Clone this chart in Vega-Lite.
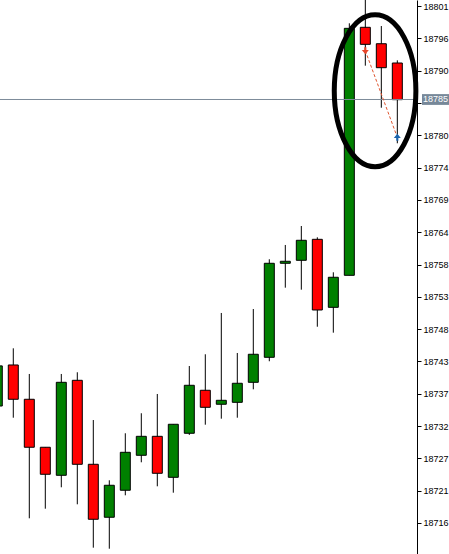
{
  "$schema": "https://vega.github.io/schema/vega-lite/v6.json",
  "width": 417,
  "height": 554,
  "autosize": {"type": "none"},
  "padding": {"left": 0, "top": 0, "right": 32, "bottom": 0},
  "background": "white",
  "config": {"view": {"stroke": null}, "axis": {"labelOverlap": false, "labelBound": false}},
  "datasets": {
    "candles": [
      {"i": 0, "open": 18735.2, "high": 18743.0, "low": 18733.5, "close": 18741.8},
      {"i": 1, "open": 18741.95, "high": 18744.69, "low": 18733.28, "close": 18736.31},
      {"i": 2, "open": 18736.31, "high": 18740.47, "low": 18716.74, "close": 18728.42},
      {"i": 3, "open": 18728.42, "high": 18728.42, "low": 18718.32, "close": 18723.98},
      {"i": 4, "open": 18723.81, "high": 18740.47, "low": 18721.84, "close": 18739.1},
      {"i": 5, "open": 18739.43, "high": 18740.75, "low": 18719.04, "close": 18725.62},
      {"i": 6, "open": 18725.62, "high": 18732.9, "low": 18711.91, "close": 18716.58},
      {"i": 7, "open": 18716.91, "high": 18722.99, "low": 18711.74, "close": 18722.17},
      {"i": 8, "open": 18721.35, "high": 18730.72, "low": 18720.52, "close": 18727.59},
      {"i": 9, "open": 18727.1, "high": 18734.01, "low": 18725.95, "close": 18730.22},
      {"i": 10, "open": 18730.22, "high": 18737.18, "low": 18722.0, "close": 18724.14},
      {"i": 11, "open": 18723.48, "high": 18732.2, "low": 18720.95, "close": 18732.2},
      {"i": 12, "open": 18730.72, "high": 18741.78, "low": 18730.45, "close": 18738.61},
      {"i": 13, "open": 18737.79, "high": 18743.71, "low": 18732.13, "close": 18734.99},
      {"i": 14, "open": 18735.49, "high": 18750.5, "low": 18733.12, "close": 18736.14},
      {"i": 15, "open": 18735.81, "high": 18743.92, "low": 18733.28, "close": 18738.94},
      {"i": 16, "open": 18739.1, "high": 18751.15, "low": 18737.95, "close": 18743.71},
      {"i": 17, "open": 18743.21, "high": 18759.33, "low": 18742.56, "close": 18758.67},
      {"i": 18, "open": 18758.67, "high": 18761.68, "low": 18754.66, "close": 18759.0},
      {"i": 19, "open": 18759.16, "high": 18764.8, "low": 18754.33, "close": 18762.45},
      {"i": 20, "open": 18762.61, "high": 18762.94, "low": 18748.24, "close": 18750.99},
      {"i": 21, "open": 18751.43, "high": 18757.19, "low": 18747.26, "close": 18756.37},
      {"i": 22, "open": 18756.69, "high": 18798.13, "low": 18756.69, "close": 18797.3},
      {"i": 23, "open": 18797.47, "high": 18802.8, "low": 18791.16, "close": 18794.67},
      {"i": 24, "open": 18794.77, "high": 18797.68, "low": 18784.25, "close": 18790.83},
      {"i": 25, "open": 18791.6, "high": 18792.04, "low": 18778.4, "close": 18785.57}
    ],
    "trades": [
      {"i": 23, "price": 18793.62, "kind": "sell"},
      {"i": 25, "price": 18779.38, "kind": "buy"}
    ],
    "bid": [
      {"i": 26.23, "price": 18785.6, "label": "18785"}
    ],
    "ellipse": [
      {"i": 23.61, "price": 18787.03}
    ]
  },
  "layer": [
    {
      "data": {"name": "candles"},
      "mark": {"type": "rule", "color": "black", "strokeWidth": 1, "clip": true},
      "encoding": {
        "x": {"field": "i", "type": "quantitative", "scale": {"domain": [0.169, 26.23], "nice": false, "zero": false, "padding": 0}, "axis": null},
        "y": {"field": "low", "type": "quantitative", "scale": {"domain": [18710.87, 18801.96], "nice": false, "zero": false, "padding": 0},
          "axis": {
            "orient": "right",
            "title": null,
            "grid": false,
            "values": [18715.97, 18721.2825, 18726.595, 18731.9075, 18737.22, 18742.5325, 18747.845, 18753.1575, 18758.47, 18763.7825, 18769.095, 18774.4075, 18779.72, 18785.0325, 18790.345, 18795.6575, 18800.97],
            "tickCount": 40,
            "labelExpr": "(datum.value > 18785 && datum.value < 18785.1) ? '' : format(datum.value, '.0f')",
            "domainColor": "black",
            "domainWidth": 1,
            "tickColor": "black",
            "tickSize": 4,
            "labelColor": "black",
            "labelFont": "Liberation Sans",
            "labelFontSize": 9,
            "labelPadding": 2,
            "labelBaseline": "middle",
            "labelFlush": false,
            "labelOverlap": false
          }
        },
        "y2": {"field": "high"}
      }
    },
    {
      "data": {"name": "candles"},
      "mark": {"type": "bar", "size": 10, "stroke": "black", "strokeWidth": 1, "clip": true},
      "encoding": {
        "x": {"field": "i", "type": "quantitative"},
        "y": {"field": "open", "type": "quantitative"},
        "y2": {"field": "close"},
        "color": {"condition": {"test": "datum.close >= datum.open", "value": "#008000"}, "value": "#ff0000"}
      }
    },
    {
      "data": {"name": "bid"},
      "mark": {"type": "rule", "color": "#7d8b99", "strokeWidth": 1},
      "encoding": {
        "y": {"field": "price", "type": "quantitative"}
      }
    },
    {
      "data": {"name": "trades"},
      "mark": {"type": "line", "color": "#e0552f", "strokeWidth": 1, "strokeDash": [3, 2]},
      "encoding": {
        "x": {"field": "i", "type": "quantitative"},
        "y": {"field": "price", "type": "quantitative"}
      }
    },
    {
      "data": {"name": "trades"},
      "transform": [{"filter": "datum.kind === 'sell'"}],
      "mark": {"type": "point", "filled": true, "color": "#e8462a", "opacity": 1, "size": 49, "strokeWidth": 0,
        "shape": "M-0.3,-1 L0.3,-1 L0.3,-0.2 L1,-0.2 L0,1 L-1,-0.2 L-0.3,-0.2 Z"},
      "encoding": {
        "x": {"field": "i", "type": "quantitative"},
        "y": {"field": "price", "type": "quantitative"}
      }
    },
    {
      "data": {"name": "trades"},
      "transform": [{"filter": "datum.kind === 'buy'"}],
      "mark": {"type": "point", "filled": true, "color": "#1c64ad", "opacity": 1, "size": 49, "strokeWidth": 0,
        "shape": "M0,-1 L1,0.2 L0.3,0.2 L0.3,1 L-0.3,1 L-0.3,0.2 L-1,0.2 Z"},
      "encoding": {
        "x": {"field": "i", "type": "quantitative"},
        "y": {"field": "price", "type": "quantitative"}
      }
    },
    {
      "data": {"name": "ellipse"},
      "mark": {"type": "point", "filled": false, "stroke": "black", "strokeWidth": 5, "opacity": 1, "size": 23104,
        "shape": "M-0.537,0 A0.537,1 0 1,0 0.537,0 A0.537,1 0 1,0 -0.537,0 Z"},
      "encoding": {
        "x": {"field": "i", "type": "quantitative"},
        "y": {"field": "price", "type": "quantitative"}
      }
    },
    {
      "data": {"name": "bid"},
      "mark": {"type": "point", "filled": true, "color": "#778899", "opacity": 1, "size": 729, "strokeWidth": 0, "xOffset": 18.5,
        "shape": "M-1,-0.4 L1,-0.4 L1,0.4 L-1,0.4 Z"},
      "encoding": {
        "x": {"field": "i", "type": "quantitative"},
        "y": {"field": "price", "type": "quantitative"}
      }
    },
    {
      "data": {"name": "bid"},
      "mark": {"type": "text", "color": "white", "font": "Liberation Sans", "fontSize": 9, "align": "center", "baseline": "middle", "xOffset": 18.5},
      "encoding": {
        "x": {"field": "i", "type": "quantitative"},
        "y": {"field": "price", "type": "quantitative"},
        "text": {"field": "label"}
      }
    }
  ]
}
